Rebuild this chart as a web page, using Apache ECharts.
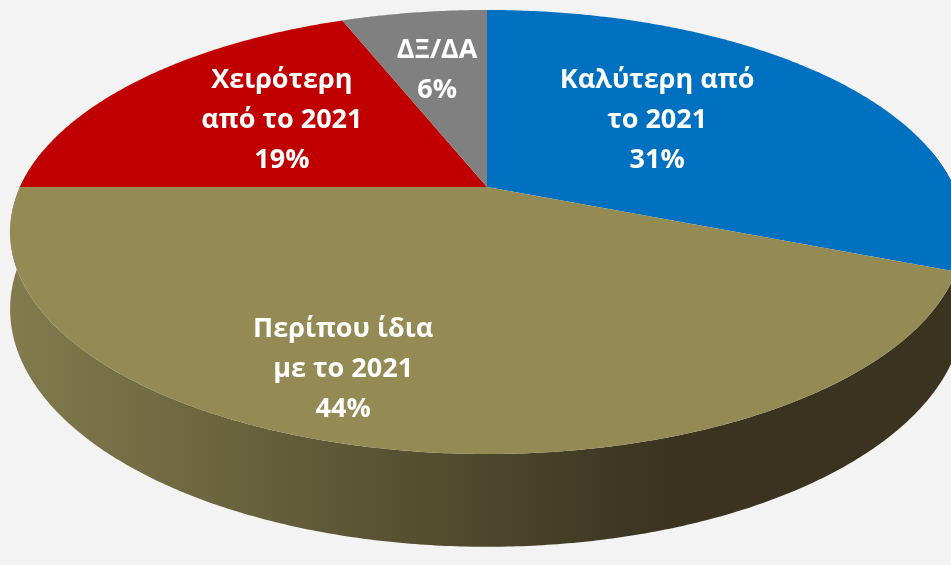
<!DOCTYPE html>
<html><head><meta charset="utf-8">
<script src="https://cdn.jsdelivr.net/npm/echarts@6/dist/echarts.min.js"></script>
<style>html,body{margin:0;padding:0;background:#f3f3f3}#c{width:951px;height:565px}</style>
</head><body><div id="c"></div>
<script>
const categories = ['Καλύτερη από\nτο 2021', 'Περίπου ίδια\nμε το 2021', 'Χειρότερη\nαπό το 2021', 'ΔΞ/ΔΑ'];
const values = [31, 44, 19, 6];
const topColors = ['#0070C0', '#948A54', '#C00000', '#808080'];
const sideColors = [['#0a5a96', '#03365c'], ['#827b4d', '#393320'], ['#9a0000', '#5a0000'], ['#707070', '#404040']];
// label placement: radius fraction and angle offset (deg) relative to slice middle
const labelRadius = [0.514, 0.775, 0.577, 0.63];
const labelShift = [6.6, -9.0, -1.4, 0.2];

const total = values.reduce((s, v) => s + v, 0);
const G = { cx: 487, cy: 187, a: 467, b: 212.9, k: 0.2026, h: 74 };
const rad = d => d * Math.PI / 180;
function proj(deg, r) {
  const x = r * Math.cos(rad(deg)), z = r * Math.sin(rad(deg));
  const d = 1 + G.k * z;
  return [G.cx + G.a * x / d, G.cy - G.b * z / d];
}
function projBottom(deg) {
  const p = proj(deg, 1);
  return [p[0], p[1] + G.h / (1 + G.k * Math.sin(rad(deg)))];
}
function arc(from, to) {
  const pts = [];
  const n = Math.max(2, Math.ceil(Math.abs(to - from) / 0.5));
  for (let i = 0; i <= n; i++) pts.push(from + (to - from) * i / n);
  return pts;
}

const chart = echarts.init(document.getElementById('c'), null, { renderer: 'canvas' });
chart.setOption({
  backgroundColor: '#f3f3f3',
  animation: false,
  series: [{
    type: 'custom',
    coordinateSystem: 'none',
    silent: true,
    data: values.map((v, i) => ({ name: categories[i], value: v })),
    renderItem: function (params, api) {
      const i = params.dataIndex;
      const v = api.value(0);
      let cum = 0;
      for (let j = 0; j < i; j++) cum += values[j];
      const start = 90 - 360 * cum / total;
      const end = start - 360 * v / total;
      const children = [];
      // side (front half of the cylinder)
      const s0 = Math.min(start, 10), s1 = Math.max(end, -190);
      if (s0 > s1) {
        const angs = arc(s0, s1);
        const topPts = angs.map(d => proj(d, 1));
        const botPts = angs.slice().reverse().map(d => projBottom(d));
        children.push({
          type: 'polygon', z2: 1,
          shape: { points: topPts.concat(botPts) },
          style: {
            fill: new echarts.graphic.LinearGradient(10, 0, 954, 0, [
              { offset: 0, color: sideColors[i][0] },
              { offset: 0.7, color: sideColors[i][1] },
              { offset: 1, color: sideColors[i][1] }
            ], true)
          }
        });
      }
      // top face
      const pts = [[G.cx, G.cy]].concat(arc(start, end).map(d => proj(d, 1)));
      children.push({ type: 'polygon', z2: 10, shape: { points: pts }, style: { fill: topColors[i] } });
      // label
      const mid = (start + end) / 2 + labelShift[i];
      const lp = proj(mid, labelRadius[i]);
      const pct = Math.round(v / total * 100) + '%';
      children.push({
        type: 'text', z2: 20, x: lp[0], y: lp[1],
        style: {
          text: categories[i] + '\n' + pct,
          fill: '#ffffff', fontFamily: 'Open Sans', fontWeight: 'bold', fontSize: 27,
          lineHeight: 40, align: 'center', verticalAlign: 'middle'
        }
      });
      return { type: 'group', children: children };
    }
  }]
});
</script></body></html>
